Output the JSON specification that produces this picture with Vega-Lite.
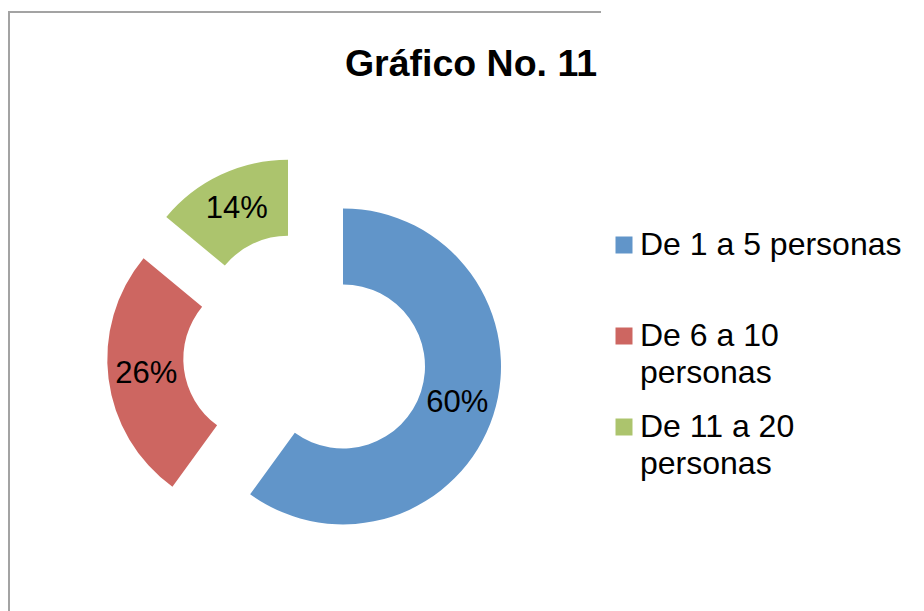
{
  "$schema": "https://vega.github.io/schema/vega-lite/v6.json",
  "autosize": {"type": "none"},
  "width": 592,
  "height": 684,
  "padding": {"left": 9, "top": 12, "right": 323, "bottom": -85},
  "background": "white",
  "view": {"stroke": "#a3a3a3", "strokeWidth": 2, "strokeDash": [592, 1276, 684]},
  "config": {
    "view": {"stroke": "#a3a3a3", "strokeWidth": 2, "strokeDash": [592, 1276, 684]},
    "style": {"guide-label": {"lineHeight": 37}}
  },
  "title": {
    "text": "Gráfico No. 11",
    "font": "Liberation Sans",
    "fontSize": 37.5,
    "fontWeight": "bold",
    "color": "black",
    "anchor": "middle",
    "frame": "group",
    "orient": "top",
    "baseline": "alphabetic",
    "offset": 0,
    "dx": 166,
    "dy": 101
  },
  "data": {
    "values": [
      {"cat": "De 1 a 5 personas", "value": 0.60},
      {"cat": "De 6 a 10 personas", "value": 0.26},
      {"cat": "De 11 a 20 personas", "value": 0.14}
    ]
  },
  "transform": [
    {"stack": "value", "groupby": [], "sort": [{"field": "value", "order": "descending"}], "as": ["v0", "v1"]}
  ],
  "layer": [
    {
      "transform": [{"filter": "datum.cat === 'De 1 a 5 personas'"}],
      "mark": {"type": "arc", "innerRadius": 82, "outerRadius": 158, "xOffset": 38, "yOffset": 12.4},
      "encoding": {
        "theta": {"field": "v0", "type": "quantitative", "scale": {"domain": [0, 1], "range": [0, 6.283185307]}},
        "theta2": {"field": "v1"},
        "color": {"field": "cat", "type": "nominal"}
      }
    },
    {
      "transform": [{"filter": "datum.cat === 'De 6 a 10 personas'"}],
      "mark": {"type": "arc", "innerRadius": 82, "outerRadius": 158, "xOffset": -39.7, "yOffset": 5},
      "encoding": {
        "theta": {"field": "v0", "type": "quantitative"},
        "theta2": {"field": "v1"},
        "color": {"field": "cat", "type": "nominal"}
      }
    },
    {
      "transform": [{"filter": "datum.cat === 'De 11 a 20 personas'"}],
      "mark": {"type": "arc", "innerRadius": 82, "outerRadius": 158, "xOffset": -17, "yOffset": -36.2},
      "encoding": {
        "theta": {"field": "v0", "type": "quantitative"},
        "theta2": {"field": "v1"},
        "color": {
          "field": "cat",
          "type": "nominal",
          "scale": {
            "domain": ["De 1 a 5 personas", "De 6 a 10 personas", "De 11 a 20 personas"],
            "range": ["#6195c9", "#cd6661", "#acc46d"]
          },
          "legend": {
            "orient": "none",
            "legendX": 599,
            "legendY": 217,
            "title": null,
            "padding": 0,
            "symbolType": "square",
            "symbolSize": 289,
            "symbolStrokeWidth": 0,
            "symbolOpacity": 1,
            "labelFont": "Liberation Sans",
            "labelFontSize": 32,
            "labelColor": "black",
            "labelLimit": 400,
            "labelOffset": 0,
            "rowPadding": 22,
            "labelExpr": "indexof(datum.label, '1 a 5') >= 0 ? [datum.label, ' '] : [replace(datum.label, ' personas', ''), 'personas']"
          }
        }
      }
    },
    {
      "mark": {"type": "text", "radius": 160, "font": "Liberation Sans", "fontSize": 31, "color": "black"},
      "encoding": {
        "theta": {"field": "value", "type": "quantitative", "stack": true},
        "order": {"field": "value", "type": "quantitative", "sort": "descending"},
        "detail": {"field": "cat", "type": "nominal"},
        "text": {"field": "value", "type": "quantitative", "format": ".0%"}
      }
    }
  ]
}
